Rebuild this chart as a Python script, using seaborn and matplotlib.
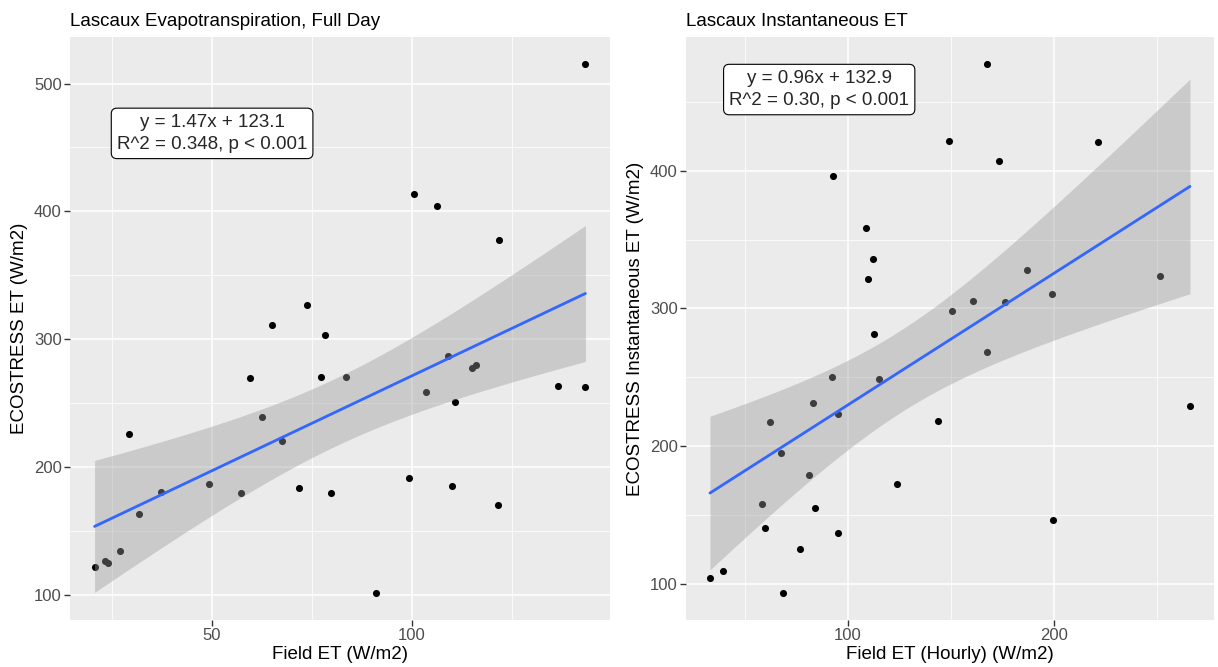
import numpy as np
import matplotlib
matplotlib.use("Agg")
import matplotlib.pyplot as plt
from matplotlib.ticker import FixedLocator
import seaborn as sns

# Full day panel (Field ET vs ECOSTRESS ET)
day_field = [143.4, 100.4, 106.3, 121.9, 73.7, 65.0, 78.2,
             59.5, 77.3, 83.4, 109.0, 115.1, 115.9, 136.6, 143.4, 103.4, 110.8,
             62.4, 67.4, 29.2, 49.3, 57.3, 71.8, 79.7, 99.3, 110.0, 121.6,
             37.1, 31.8, 27.0, 23.2, 23.9, 20.6, 91.0]
day_eco = [515.7, 413.9, 403.9, 377.5, 327.0, 310.7, 303.1,
           269.2, 270.2, 270.2, 287.0, 277.3, 279.6, 263.4, 262.1, 258.7, 250.9,
           239.2, 220.4, 225.3, 186.2, 179.6, 183.6, 179.6, 191.1, 185.1, 169.7,
           180.2, 162.7, 133.7, 126.4, 124.3, 121.7, 100.8]

# Instantaneous panel (hourly Field ET vs ECOSTRESS instantaneous ET)
inst_field = [167.2, 148.8, 221.2, 173.3, 92.6, 108.8, 112.0, 109.6, 186.7, 251.4,
              160.8, 176.1, 198.9, 150.5, 112.7,
              167.2, 92.1, 115.1, 265.9, 82.9, 95.2, 143.5, 61.9, 67.4, 81.0,
              123.6, 58.0, 84.0, 199.3, 59.5, 95.2, 76.8, 39.4, 33.0, 68.5]
inst_eco = [477.9, 421.6, 420.6, 407.0, 396.4, 358.7, 335.9, 321.1, 328.2, 323.6,
            305.6, 304.4, 310.7, 298.1, 281.3,
            268.2, 250.0, 248.5, 228.9, 231.1, 223.5, 218.0, 217.2, 195.1, 178.9,
            172.8, 158.3, 154.9, 146.1, 140.5, 136.9, 125.5, 109.2, 104.6, 93.0]

titles = ["Lascaux Evapotranspiration, Full Day", "Lascaux Instantaneous ET"]
xlabels = ["Field ET (W/m2)", "Field ET (Hourly) (W/m2)"]
ylabels = ["ECOSTRESS ET (W/m2)", "ECOSTRESS Instantaneous ET (W/m2)"]
eq_labels = ["y = 1.47x + 123.1\nR^2 = 0.348, p < 0.001",
             "y = 0.96x + 132.9\nR^2 = 0.30, p < 0.001"]
label_pos = [(50, 461), (86, 459)]
x_major = [[50, 100], [100, 200]]
x_minor = [[25, 75, 125], [50, 150, 250]]
y_major = [[100, 200, 300, 400, 500], [100, 200, 300, 400]]
y_minor = [[150, 250, 350, 450], [150, 250, 350, 450]]

sns.set_theme(style="darkgrid", rc={"axes.facecolor": "#EBEBEB",
                                    "grid.color": "white"})
plt.rcParams['font.family'] = ['Liberation Sans', 'DejaVu Sans']

fig = plt.figure(figsize=(12.18, 6.67), dpi=100)
ax1 = fig.add_axes([0.0575, 0.0705, 0.4433, 0.874])
ax2 = fig.add_axes([0.5632, 0.0705, 0.4335, 0.874])

# two-sided 95% t quantiles for df = n - 2
t_crit = {32: 2.0369, 33: 2.0345}

panels = [(ax1, day_field, day_eco), (ax2, inst_field, inst_eco)]
for i, (ax, xs, ys) in enumerate(panels):
    xs = np.array(xs)
    ys = np.array(ys)
    sns.scatterplot(x=xs, y=ys, ax=ax, color="black", s=26, linewidth=0, zorder=2)
    sns.regplot(x=xs, y=ys, ax=ax, scatter=False, ci=None,
                line_kws={"color": "#3366FF", "lw": 2, "zorder": 4})

    # confidence band like geom_smooth(method = "lm")
    n = len(xs)
    b, a = np.polyfit(xs, ys, 1)
    resid = ys - (a + b * xs)
    s = np.sqrt(np.sum(resid ** 2) / (n - 2))
    grid = np.linspace(xs.min(), xs.max(), 100)
    se = s * np.sqrt(1 / n + (grid - xs.mean()) ** 2 / np.sum((xs - xs.mean()) ** 2))
    fit = a + b * grid
    tq = t_crit[n - 2]
    ax.fill_between(grid, fit - tq * se, fit + tq * se, color="#999999",
                    alpha=0.4, linewidth=0, zorder=3)

    # ggplot-style 5% expansion
    xr = xs.max() - xs.min()
    yr = ys.max() - ys.min()
    ax.set_xlim(xs.min() - 0.05 * xr, xs.max() + 0.05 * xr)
    ax.set_ylim(ys.min() - 0.05 * yr, ys.max() + 0.05 * yr)

    ax.xaxis.set_major_locator(FixedLocator(x_major[i]))
    ax.xaxis.set_minor_locator(FixedLocator(x_minor[i]))
    ax.yaxis.set_major_locator(FixedLocator(y_major[i]))
    ax.yaxis.set_minor_locator(FixedLocator(y_minor[i]))
    ax.grid(which="major", color="white", lw=1.1)
    ax.grid(which="minor", color="white", lw=0.55)
    ax.tick_params(which="major", bottom=True, left=True, length=4, width=1,
                   color="#333333", labelcolor="#4D4D4D", labelsize=12, pad=2)
    ax.tick_params(which="minor", length=0)
    for sp in ax.spines.values():
        sp.set_visible(False)

    ax.set_title(titles[i], loc="left", fontsize=13.5, pad=8, color="black")
    ax.set_xlabel(xlabels[i], fontsize=13.5, color="black", labelpad=2)
    ax.set_ylabel(ylabels[i], fontsize=13.5, color="black", labelpad=4)

    lx, ly = label_pos[i]
    ax.text(lx, ly, eq_labels[i], ha="center", va="center", multialignment="center",
            fontsize=13.5, linespacing=1.4, zorder=6,
            bbox=dict(boxstyle="round,pad=0.3,rounding_size=0.3", fc="white",
                      ec="black", lw=0.8))

fig.savefig("out.png", dpi=100)
